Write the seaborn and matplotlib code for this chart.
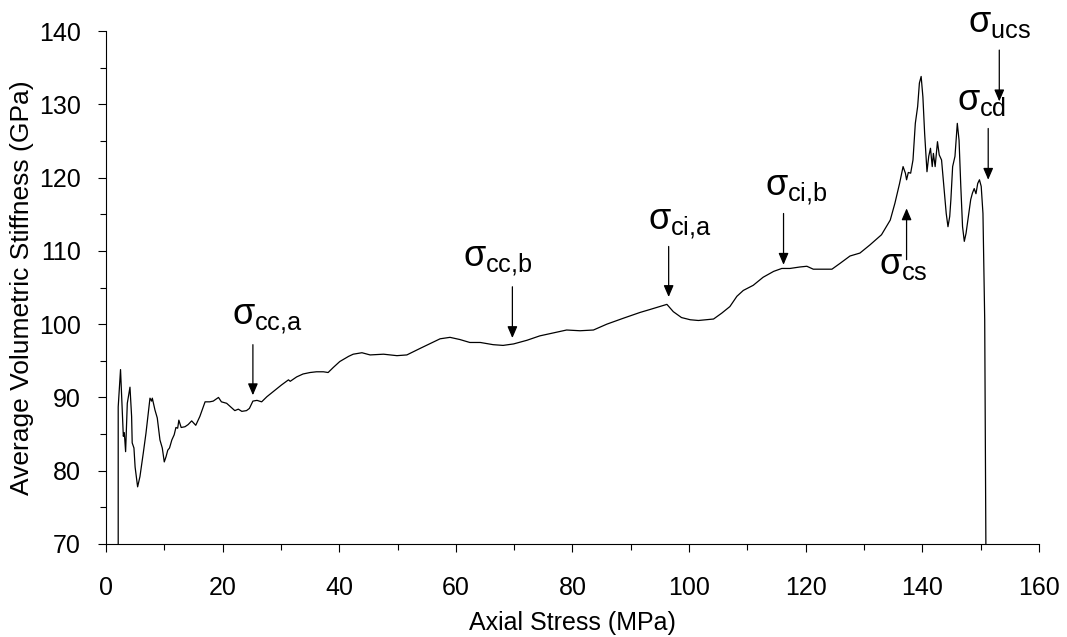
import matplotlib
matplotlib.use("Agg")
import matplotlib.pyplot as plt
import seaborn as sns
import pandas as pd
from matplotlib.ticker import MultipleLocator

# curve (axial stress MPa, stiffness GPa)
axial_stress = [
    2.1, 2.1, 2.5, 2.8, 2.98, 3.15, 3.37, 3.66, 4.12, 4.4,
    4.5, 4.8, 5.0, 5.43, 5.83, 6.4, 6.86, 7.55, 7.83, 7.95,
    8.4, 8.8, 9.26, 9.66, 10.0, 10.3, 10.6, 10.9, 11.3, 11.7,
    12.0, 12.3, 12.5, 12.9, 13.55, 14.1, 14.7, 15.4, 16.1, 17.0,
    17.8, 18.4, 19.3, 19.8, 20.7, 21.4, 22.1, 22.7, 23.3, 24.1,
    24.6, 25.2, 25.9, 26.7, 27.6, 28.7, 30.1, 31.3, 31.6, 32.7,
    33.8, 35.0, 36.1, 37.3, 38.1, 39.0, 40.1, 41.6, 42.4, 43.9,
    45.3, 47.6, 49.9, 51.6, 53.9, 57.3, 59.0, 60.7, 62.4, 64.2,
    66.4, 68.1, 69.9, 72.2, 74.4, 76.7, 79.0, 81.3, 83.6, 85.9,
    88.7, 91.6, 93.3, 96.2, 97.3, 98.7, 100.2, 101.6, 104.2, 105.6,
    107.0, 108.2, 109.3, 111.0, 112.7, 114.5, 115.9, 117.3, 119.0, 120.2,
    121.3, 123.0, 124.5, 125.9, 127.6, 129.3, 131.0, 133.0, 134.5, 135.3,
    136.1, 136.7, 137.1, 137.3, 137.6, 138.0, 138.4, 138.8, 139.2, 139.5,
    139.8, 140.1, 140.4, 140.8, 141.1, 141.4, 141.7, 141.9, 142.2, 142.6,
    142.9, 143.3, 143.7, 144.1, 144.4, 144.7, 144.9, 145.2, 145.6, 146.0,
    146.3, 146.6, 146.9, 147.2, 147.5, 147.9, 148.3, 148.6, 148.9, 149.2,
    149.5, 149.8, 150.1, 150.4, 150.7, 150.9,
]
stiffness = [
    70, 88.7, 93.8, 88.3, 84.7, 85.2, 82.6, 89.2, 91.4, 87.4,
    83.8, 83.1, 80.5, 77.8, 79.2, 82.4, 85.1, 89.9, 89.5, 89.9,
    88.3, 87.2, 84.2, 83.1, 81.2, 81.9, 82.8, 83.1, 84.2, 84.9,
    85.9, 85.8, 86.9, 85.9, 86.0, 86.3, 86.8, 86.2, 87.4, 89.4,
    89.4, 89.5, 90.0, 89.4, 89.2, 88.7, 88.2, 88.4, 88.1, 88.2,
    88.5, 89.5, 89.6, 89.4, 90.1, 90.8, 91.7, 92.4, 92.2, 92.8,
    93.2, 93.4, 93.5, 93.5, 93.4, 94.1, 94.9, 95.6, 95.9, 96.1,
    95.8, 95.9, 95.7, 95.8, 96.7, 98.0, 98.2, 97.9, 97.5, 97.5,
    97.2, 97.1, 97.3, 97.8, 98.4, 98.8, 99.2, 99.1, 99.2, 100.0,
    100.8, 101.6, 102.0, 102.7, 101.7, 100.9, 100.6, 100.5, 100.7, 101.5,
    102.4, 103.8, 104.6, 105.3, 106.4, 107.2, 107.6, 107.6, 107.8, 107.9,
    107.5, 107.5, 107.5, 108.3, 109.3, 109.7, 110.8, 112.2, 114.2, 116.5,
    119.2, 121.5, 120.6, 119.7, 120.7, 120.6, 122.4, 127.4, 129.7, 132.9,
    133.8, 131.0, 126.0, 120.8, 122.9, 124.0, 121.5, 123.3, 121.5, 124.9,
    123.1, 122.4, 118.8, 115.1, 113.3, 114.7, 117.0, 121.5, 122.9, 127.4,
    125.1, 118.8, 113.3, 111.3, 112.4, 114.7, 117.0, 117.9, 118.5, 117.8,
    119.2, 119.7, 118.8, 115.1, 100.6, 70,
]

# threshold markers: subscript, stress at arrow, arrow tail / tip stiffness, label anchor
marker_names = ["cc{,}a", "cc{,}b", "ci{,}a", "ci{,}b", "cs", "cd", "ucs"]
marker_stress = [25.2, 69.7, 96.5, 116.2, 137.3, 151.3, 153.2]
arrow_tail = [97.2, 105.1, 110.6, 115.1, 108.8, 126.7, 137.4]
arrow_tip = [90.3, 98.1, 103.7, 108.1, 115.8, 119.7, 130.4]
label_x = [21.6, 61.3, 93.0, 113.0, 132.5, 145.9, 147.9]
label_y = [99.9, 107.8, 112.9, 117.6, 106.9, 129.2, 139.9]

sns.set_style("ticks")
plt.rcParams["font.family"] = ["Liberation Sans", "DejaVu Sans"]
plt.rcParams["mathtext.fontset"] = "custom"
plt.rcParams["mathtext.rm"] = "Liberation Sans"
plt.rcParams["mathtext.it"] = "Liberation Sans"
plt.rcParams["mathtext.bf"] = "Liberation Sans:bold"

df = pd.DataFrame({"stress": axial_stress, "stiff": stiffness})

fig = plt.figure(figsize=(10.67, 6.37), dpi=100)
ax = fig.add_axes([0.0993, 0.146, 0.8744, 0.8053])
sns.lineplot(data=df, x="stress", y="stiff", ax=ax, estimator=None, sort=False,
             color="black", linewidth=0.9)

ax.set_xlim(0, 160)
ax.set_ylim(70, 140)
ax.xaxis.set_major_locator(MultipleLocator(20))
ax.xaxis.set_minor_locator(MultipleLocator(10))
ax.yaxis.set_major_locator(MultipleLocator(10))
ax.yaxis.set_minor_locator(MultipleLocator(5))
ax.tick_params(which="both", direction="out", width=0.8, colors="black")
ax.tick_params(which="major", length=6, labelsize=18)
ax.tick_params(axis="x", which="major", pad=17)
ax.tick_params(axis="y", which="major", pad=12)
ax.tick_params(which="minor", length=4)
for side in ["top", "right"]:
    ax.spines[side].set_visible(False)
for side in ["left", "bottom"]:
    ax.spines[side].set_linewidth(0.8)
    ax.spines[side].set_color("black")

ax.set_xlabel("Axial Stress (MPa)", fontsize=18, labelpad=8, color="black")
ax.set_ylabel("Average Volumetric Stiffness (GPa)", fontsize=19, labelpad=4,
              color="black")

for name, sx, y0, y1, tx, ty in zip(marker_names, marker_stress, arrow_tail,
                                    arrow_tip, label_x, label_y):
    ax.annotate("", xy=(sx, y1), xytext=(sx, y0),
                arrowprops=dict(arrowstyle="-|>,head_length=0.7,head_width=0.3",
                                color="black", lw=0.9, shrinkA=0, shrinkB=0,
                                mutation_scale=10))
    ax.text(tx, ty, r"$\sigma_{\mathrm{" + name + "}}$", fontsize=26,
            ha="left", va="baseline", clip_on=False, color="black")

fig.savefig("out.png", dpi=100, facecolor="white")
